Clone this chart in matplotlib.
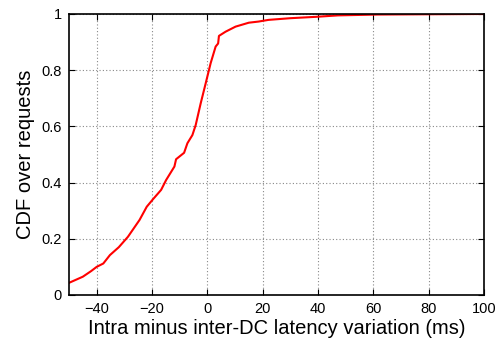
import numpy as np
import matplotlib
matplotlib.use('Agg')
import matplotlib.pyplot as plt

plt.rcParams['font.family'] = ['Liberation Sans', 'DejaVu Sans']

# latency difference (ms) and cumulative fraction
latency_diff = [-50, -49.8, -45, -42, -40, -37.6, -35.2, -32, -28.7, -24.5, -21.9,
                -19.7, -16.7, -14.9, -11.9, -11.3, -8.4, -7.2, -5.4, -4.2, -2.4,
                -0.6, 1.2, 3.0, 3.9, 4.2, 6.6, 10.2, 15, 18.5, 22.1, 30, 39.5,
                47.2, 61.5, 80, 100]
cdf = [0.043, 0.044, 0.065, 0.085, 0.10, 0.112, 0.142, 0.17, 0.207, 0.267, 0.314,
       0.34, 0.374, 0.409, 0.457, 0.483, 0.506, 0.54, 0.569, 0.605, 0.682,
       0.753, 0.825, 0.884, 0.895, 0.922, 0.937, 0.955, 0.969, 0.973, 0.979,
       0.985, 0.99, 0.995, 0.998, 0.999, 1.0]

fig = plt.figure(figsize=(5, 3.41), dpi=100)
ax = fig.add_axes([0.138, 0.135, 0.83, 0.824])

ax.plot(latency_diff, cdf, color='#ff0000', linewidth=1.5)

ax.set_xlim(-50, 100)
ax.set_ylim(0, 1)
ax.set_xticks(np.arange(-40, 101, 20))
ax.set_yticks([0, 0.2, 0.4, 0.6, 0.8, 1])
ax.set_yticklabels(['0', '0.2', '0.4', '0.6', '0.8', '1'])
ax.tick_params(direction='in', length=4, labelsize=10.5, top=True, right=True, pad=5)
ax.grid(True, linestyle=(0, (1, 2)), color='#888888', linewidth=0.8)
for s in ax.spines.values():
    s.set_linewidth(1.2)

ax.set_xlabel('Intra minus inter-DC latency variation (ms)', fontsize=14.5, labelpad=2)
ax.set_ylabel('CDF over requests', fontsize=14.5, labelpad=5)

fig.savefig('out.png', dpi=100)
